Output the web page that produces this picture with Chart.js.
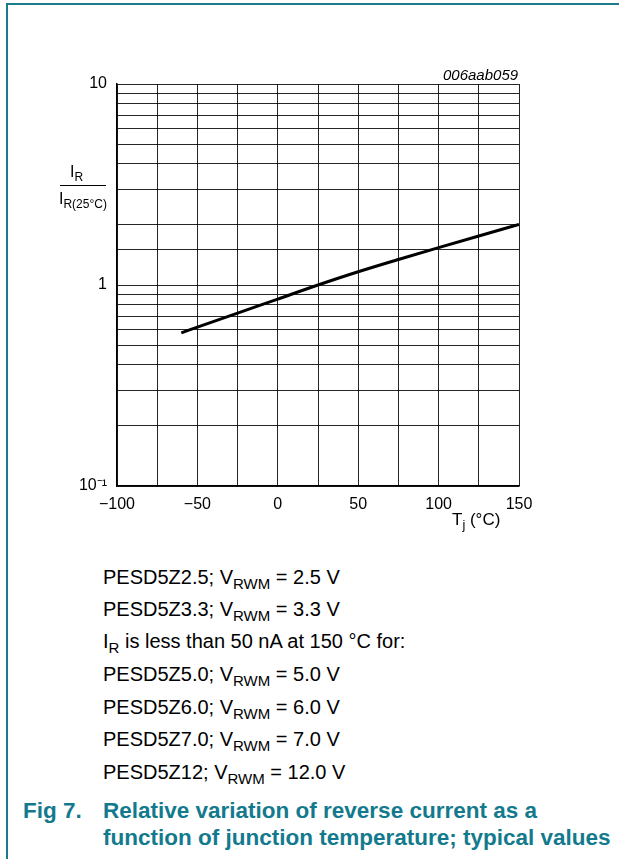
<!DOCTYPE html>
<html>
<head>
<meta charset="utf-8">
<script src="https://cdn.jsdelivr.net/npm/chart.js@4.4.0/dist/chart.umd.min.js"></script>
<style>
  body { margin: 0; background: #fff; font-family: "Liberation Sans", Arial, sans-serif; color: #000; }
  #page { position: relative; width: 619px; height: 859px; overflow: hidden; }
  #frameTop { position: absolute; left: 6px; top: 3px; width: 613px; height: 2px; background: #1b7a8c; }
  #frameLeft { position: absolute; left: 6px; top: 3px; width: 2px; height: 856px; background: #1b7a8c; }
  #wrap { position: absolute; left: 0; top: 0; width: 619px; height: 560px; }
  .t { position: absolute; white-space: nowrap; }
  .sub { font-size: 0.75em; position: relative; top: 0.3em; }
  #code { left: 443px; top: 66px; font-size: 15px; font-style: italic; }
  #yNum { left: 70px; top: 163px; font-size: 16px; }
  #yBar { position: absolute; left: 60px; top: 185px; width: 46px; height: 1px; background: #000; }
  #yDen { left: 59px; top: 190px; font-size: 16px; }
  #xTitle { left: 452px; top: 510px; font-size: 17px; }
  .note { left: 103px; font-size: 20px; line-height: 23px; }
  .cap { font-size: 22.5px; line-height: 26px; font-weight: bold; color: #137a8e; }
</style>
</head>
<body>
<div id="page">
  <div id="frameTop"></div>
  <div id="frameLeft"></div>
  <div id="wrap"><canvas id="myChart" width="619" height="560"></canvas></div>

  <div class="t" id="code">006aab059</div>
  <div class="t" id="yNum">I<span class="sub">R</span></div>
  <div id="yBar"></div>
  <div class="t" id="yDen">I<span class="sub">R(25°C)</span></div>
  <div class="t" id="xTitle">T<span class="sub">j</span> (°C)</div>

  <div class="t note" style="top:566px">PESD5Z2.5; V<span class="sub">RWM</span> = 2.5 V</div>
  <div class="t note" style="top:598px">PESD5Z3.3; V<span class="sub">RWM</span> = 3.3 V</div>
  <div class="t note" style="top:630px">I<span class="sub">R</span> is less than 50 nA at 150 °C for:</div>
  <div class="t note" style="top:663px">PESD5Z5.0; V<span class="sub">RWM</span> = 5.0 V</div>
  <div class="t note" style="top:696px">PESD5Z6.0; V<span class="sub">RWM</span> = 6.0 V</div>
  <div class="t note" style="top:728px">PESD5Z7.0; V<span class="sub">RWM</span> = 7.0 V</div>
  <div class="t note" style="top:761px">PESD5Z12; V<span class="sub">RWM</span> = 12.0 V</div>

  <div class="t cap" style="left:23px; top:798px">Fig 7.</div>
  <div class="t cap" style="left:103px; top:798px">Relative variation of reverse current as a</div>
  <div class="t cap" style="left:103px; top:825px">function of junction temperature; typical values</div>
</div>

<script>
// datos
const temperaturas = [-60, -50, -25, 0, 25, 50, 75, 100, 125, 150];
const corrienteRel = [0.578, 0.617, 0.724, 0.851, 1.0, 1.164, 1.34, 1.535, 1.754, 2.0];
const etiquetasX = [-100, -50, 0, 50, 100, 150];
const etiquetasY = { 10: '10', 1: '1', 0.1: '10\u207B\u00B9' };

const puntos = temperaturas.map((t, i) => ({ x: t, y: corrienteRel[i] }));

const rejilla = { color: 'rgba(0,0,0,0.85)', lineWidth: 1, drawTicks: false };
const fuente = { family: 'Liberation Sans', size: 16 };

const ctx = document.getElementById('myChart').getContext('2d');
new Chart(ctx, {
    type: 'line',
    data: {
        datasets: [{
            data: puntos,
            borderColor: '#000',
            borderWidth: 3,
            pointRadius: 0,
            fill: false,
            cubicInterpolationMode: 'monotone'
        }]
    },
    options: {
        responsive: false,
        animation: false,
        layout: { padding: { left: 67, right: 100, top: 84, bottom: 34 } },
        plugins: { legend: { display: false }, tooltip: { enabled: false } },
        scales: {
            x: {
                type: 'linear',
                min: -100,
                max: 150,
                grid: rejilla,
                border: { color: '#000', width: 1.5 },
                afterFit: (s) => { s.height = 40; },
                ticks: {
                    stepSize: 25,
                    padding: 9,
                    color: '#000',
                    font: fuente,
                    maxRotation: 0,
                    autoSkip: false,
                    callback: (v) => etiquetasX.includes(v) ? String(v).replace('-', '\u2212') : ''
                }
            },
            y: {
                type: 'logarithmic',
                min: 0.1,
                max: 10,
                grid: rejilla,
                border: { color: '#000', width: 1.5 },
                afterFit: (s) => { s.width = 50; },
                ticks: {
                    padding: 10,
                    color: '#000',
                    font: fuente,
                    autoSkip: false,
                    callback: (v) => {
                        const r = Math.round(v * 1000) / 1000;
                        return etiquetasY[r] !== undefined ? etiquetasY[r] : '';
                    }
                }
            }
        }
    }
});
</script>
</body>
</html>
